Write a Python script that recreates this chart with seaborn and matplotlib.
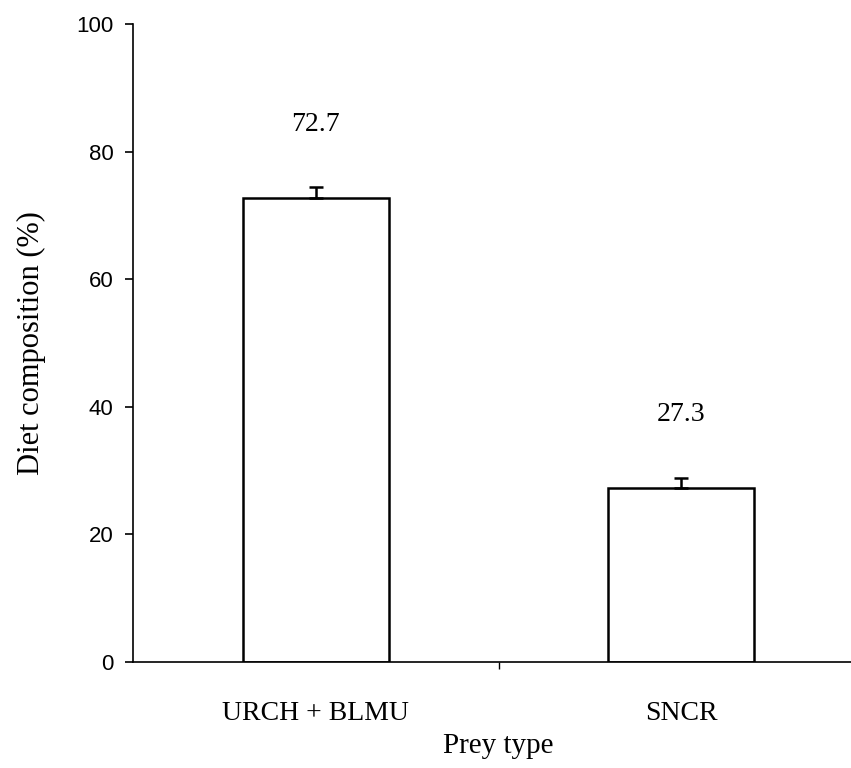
import matplotlib
matplotlib.use("Agg")
import matplotlib.pyplot as plt
import seaborn as sns
import pandas as pd

categories = ["URCH + BLMU", "SNCR"]
diet_pct = [72.7, 27.3]
diet_se = [1.7, 1.6]

sns.set_theme(style="ticks")
plt.rcParams["font.family"] = ["Liberation Sans", "DejaVu Sans"]
plt.rcParams.update({"text.color": "black", "axes.labelcolor": "black",
                     "xtick.color": "black", "ytick.color": "black"})

df = pd.DataFrame({"prey": categories, "pct": diet_pct})

fig = plt.figure(figsize=(8.51, 7.68), dpi=100)
ax = fig.add_axes([133 / 851, 1 - 662 / 768, (864 - 133) / 851, (662 - 24) / 768])

sns.barplot(data=df, x="prey", y="pct", ax=ax, color="white",
            edgecolor="black", linewidth=1.8, width=0.4, errorbar=None,
            saturation=1)

# upper-only standard error whiskers
ax.errorbar(range(len(categories)), diet_pct,
            yerr=[[0] * len(diet_se), diet_se], fmt="none",
            ecolor="black", elinewidth=1.8, capsize=5, capthick=1.8)

for i, v in enumerate(diet_pct):
    ax.text(i, v + 11.5, f"{v:.1f}", ha="center", va="center",
            fontsize=20, family="Liberation Serif", color="black")

ax.set_xlim(-0.5, 1.5)
ax.set_ylim(0, 100)
ax.set_yticks([0, 20, 40, 60, 80, 100])
ax.tick_params(axis="y", labelsize=16, length=6, width=1.2, direction="out",
               pad=8, colors="black")
ax.set_xticks([0, 1])
ax.set_xticklabels(categories, family="Liberation Serif", fontsize=20)
ax.tick_params(axis="x", length=0, pad=28, colors="black")
ax.set_xticks([0.5], minor=True)
ax.tick_params(axis="x", which="minor", length=5, width=1.0, direction="out")

ax.set_xlabel("Prey type", family="Liberation Serif", fontsize=21, labelpad=5)
ax.set_ylabel("Diet composition (%)", family="Liberation Serif", fontsize=22,
              labelpad=22)

for s in ("top", "right"):
    ax.spines[s].set_visible(False)
for s in ("left", "bottom"):
    ax.spines[s].set_linewidth(1.2)
    ax.spines[s].set_color("black")

fig.savefig("out.png", dpi=100)
